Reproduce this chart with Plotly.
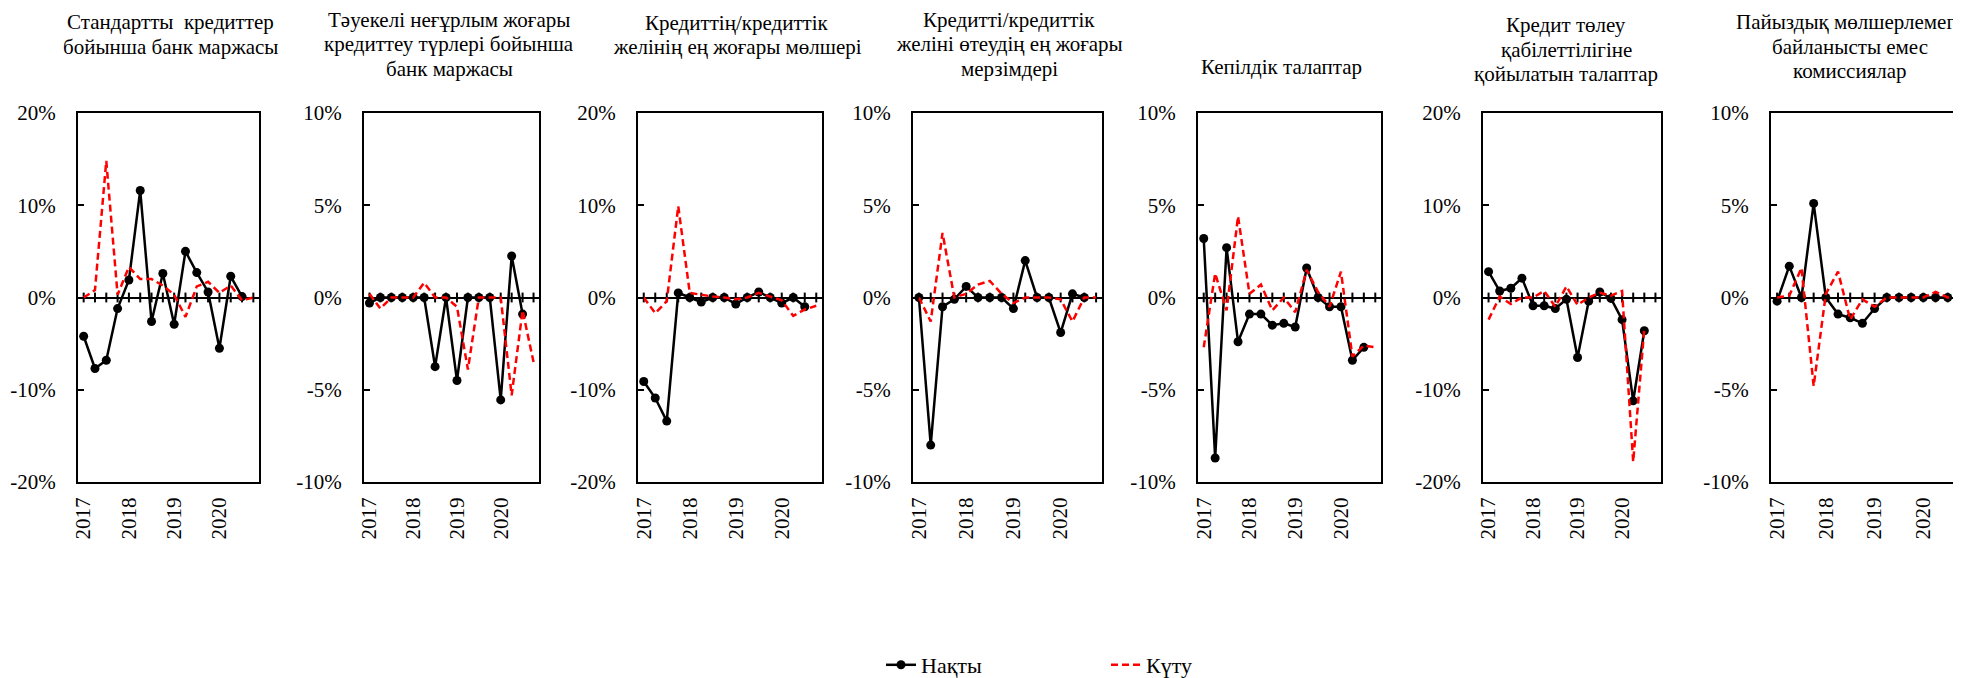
import plotly.graph_objects as go

# ---------------- data ----------------
quarters = ["2017Q1", "2017Q2", "2017Q3", "2017Q4",
            "2018Q1", "2018Q2", "2018Q3", "2018Q4",
            "2019Q1", "2019Q2", "2019Q3", "2019Q4",
            "2020Q1", "2020Q2", "2020Q3", "2020Q4"]
year_ticks = ["2017Q1", "2018Q1", "2019Q1", "2020Q1"]
year_labels = ["2017", "2018", "2019", "2020"]

titles = [
    ["Стандартты  кредиттер", "бойынша банк маржасы"],
    ["Тәуекелі неғұрлым жоғары", "кредиттеу түрлері бойынша", "банк маржасы"],
    ["Кредиттің/кредиттік", "желінің ең жоғары мөлшері"],
    ["Кредитті/кредиттік", "желіні өтеудің ең жоғары", "мерзімдері"],
    ["Кепілдік талаптар"],
    ["Кредит төлеу", "қабілеттілігіне", "қойылатын талаптар"],
    ["Пайыздық мөлшерлемеге", "байланысты емес", "комиссиялар"],
]

actual_1 = [-4.2, -7.7, -6.8, -1.2, 1.9, 11.6, -2.6, 2.6, -2.9, 5.0, 2.7, 0.6, -5.5, 2.3, 0.1]
expected_1 = [0.0, 0.8, 14.8, 0.3, 3.3, 2.0, 2.0, 1.3, 0.3, -2.1, 1.2, 1.7, 0.5, 1.3, -0.3, 0.0]

actual_2 = [-0.3, 0.0, 0.0, 0.0, 0.0, 0.0, -3.75, 0.0, -4.5, 0.0, 0.0, 0.0, -5.55, 2.25, -0.9]
expected_2 = [0.2, -0.6, 0.0, 0.0, 0.0, 0.8, 0.0, 0.0, -0.5, -3.9, 0.0, 0.0, 0.0, -5.3, -0.7, -3.5]

actual_3 = [-9.1, -10.9, -13.4, 0.5, 0.0, -0.5, 0.0, 0.0, -0.7, 0.0, 0.6, 0.0, -0.6, 0.0, -1.0]
expected_3 = [0.0, -1.7, -0.4, 9.9, 0.5, 0.3, 0.1, 0.0, -0.2, 0.0, 0.5, 0.1, -0.3, -2.0, -1.3, -0.9]

actual_4 = [0.0, -8.0, -0.5, -0.1, 0.6, 0.0, 0.0, 0.0, -0.6, 2.0, 0.0, 0.0, -1.9, 0.2, 0.0]
expected_4 = [0.0, -1.3, 3.5, 0.0, 0.2, 0.7, 0.9, 0.2, -0.3, 0.0, 0.0, 0.0, -0.1, -1.3, 0.0, 0.0]

actual_5 = [3.2, -8.7, 2.7, -2.4, -0.9, -0.9, -1.5, -1.4, -1.6, 1.6, 0.0, -0.5, -0.5, -3.4, -2.7]
expected_5 = [-2.7, 1.3, -0.7, 4.4, 0.2, 0.7, -0.7, 0.0, -0.8, 1.5, 0.3, -0.5, 1.4, -3.2, -2.6, -2.7]

actual_6 = [2.8, 0.7, 1.0, 2.1, -0.9, -0.9, -1.2, -0.2, -6.5, -0.4, 0.6, -0.1, -2.4, -11.2, -3.6]
expected_6 = [-2.4, 0.1, -0.7, 0.0, 0.0, 0.7, -1.0, 1.2, -0.8, 0.0, 0.5, 0.2, 0.7, -17.8, -3.4]

actual_7 = [-0.2, 1.7, 0.0, 5.1, 0.0, -0.9, -1.1, -1.4, -0.6, 0.0, 0.0, 0.0, 0.0, 0.0, 0.0]
expected_7 = [0.0, 0.1, 1.6, -4.8, 0.2, 1.4, -1.2, -0.1, -0.5, 0.0, 0.0, 0.0, 0.0, 0.3, 0.0, 0.0]

actual_series = [actual_1, actual_2, actual_3, actual_4, actual_5, actual_6, actual_7]
expected_series = [expected_1, expected_2, expected_3, expected_4, expected_5, expected_6, expected_7]
y_ticks_20 = [-20, -10, 0, 10, 20]
y_ticks_10 = [-10, -5, 0, 5, 10]
y_tick_sets = [y_ticks_20, y_ticks_10, y_ticks_20, y_ticks_10, y_ticks_10, y_ticks_20, y_ticks_10]

series_names = ["Нақты", "Күту"]

# ---------------- layout geometry (screen pixels) ----------------
W, H = 1961, 678
OFF_X, OFF_Y = 6, 8  # page body offset
box_x = [(76, 257), (362, 537), (636, 820), (911, 1100), (1196, 1379), (1481, 1659), (1769, 1964)]
box_y = [(113, 482)] * 7
title_cx = [168, 447, 735, 1007, 1279, 1564, 1848]
title_first_cy = [22, 20, 23, 20, 67, 25, 22]
TITLE_STEP = 24.5

FONT = "Liberation Serif"
fig = go.Figure()

for i in range(7):
    n = i + 1
    xa = "x" if n == 1 else f"x{n}"
    ya = "y" if n == 1 else f"y{n}"
    act = actual_series[i]
    exp = expected_series[i]
    yt = y_tick_sets[i]

    # zero line tick marks at category centres
    fig.add_trace(go.Scatter(
        x=quarters, y=[0] * len(quarters), xaxis=xa, yaxis=ya,
        mode="markers", showlegend=False, hoverinfo="skip",
        marker=dict(symbol="line-ns", size=7, color="black",
                    line=dict(color="black", width=2)),
    ))
    fig.add_trace(go.Scatter(
        x=quarters[:len(act)], y=act, xaxis=xa, yaxis=ya,
        mode="lines+markers", name=series_names[0], legendgroup="a",
        showlegend=(i == 0),
        line=dict(color="black", width=2.5),
        marker=dict(color="black", size=9),
    ))
    fig.add_trace(go.Scatter(
        x=quarters[:len(exp)], y=exp, xaxis=xa, yaxis=ya,
        mode="lines", name=series_names[1], legendgroup="e",
        showlegend=(i == 0),
        line=dict(color="#FF0000", width=2.5, dash="7px,4px"),
    ))

    x0, x1 = box_x[i]
    y0, y1 = box_y[i]
    xkey = "xaxis" if n == 1 else f"xaxis{n}"
    ykey = "yaxis" if n == 1 else f"yaxis{n}"
    fig.update_layout(**{
        xkey: dict(
            domain=[(x0 - OFF_X) / W, min((x1 - OFF_X) / W, 1.0)], anchor=ya, automargin=False,
            type="category", categoryorder="array", categoryarray=quarters,
            range=[-0.5, len(quarters) - 0.5],
            tickmode="array", tickvals=year_ticks, ticktext=year_labels,
            tickangle=-90, ticks="", ticklabelstandoff=5,
            showline=True, mirror=True, linecolor="black", linewidth=2,
            showgrid=False, zeroline=False,
            tickfont=dict(family=FONT, size=21, color="black"),
        ),
        ykey: dict(
            domain=[1 - (y1 - OFF_Y) / H, 1 - (y0 - OFF_Y) / H], anchor=xa, automargin=False,
            range=[yt[0], yt[-1]],
            tickmode="array", tickvals=yt, ticktext=[f"{v}%" for v in yt],
            ticks="inside", ticklen=6, tickwidth=2, tickcolor="black",
            ticklabelstandoff=16,
            showline=True, mirror=True, linecolor="black", linewidth=2,
            showgrid=False, zeroline=True, zerolinecolor="black", zerolinewidth=2,
            tickfont=dict(family=FONT, size=21, color="black"),
        ),
    })
    for k, line_text in enumerate(titles[i]):
        fig.add_annotation(
            text=line_text, xref="paper", yref="paper",
            x=(title_cx[i] - OFF_X) / W,
            y=1 - (title_first_cy[i] + k * TITLE_STEP - OFF_Y) / H,
            xanchor="center", yanchor="middle", showarrow=False, align="center",
            font=dict(family=FONT, size=21, color="black"),
        )

fig.update_layout(
    width=W, height=H,
    margin=dict(l=0, r=0, t=0, b=0, autoexpand=False),
    paper_bgcolor="white", plot_bgcolor="white",
    showlegend=True,
    legend=dict(
        orientation="h", x=(879 - OFF_X) / W, xanchor="left",
        y=1 - (665 - OFF_Y) / H, yanchor="middle",
        entrywidth=180, entrywidthmode="pixels",
        font=dict(family=FONT, size=22, color="black"),
        bgcolor="rgba(0,0,0,0)",
    ),
    hovermode=False,
)

fig.write_html("out.html")
